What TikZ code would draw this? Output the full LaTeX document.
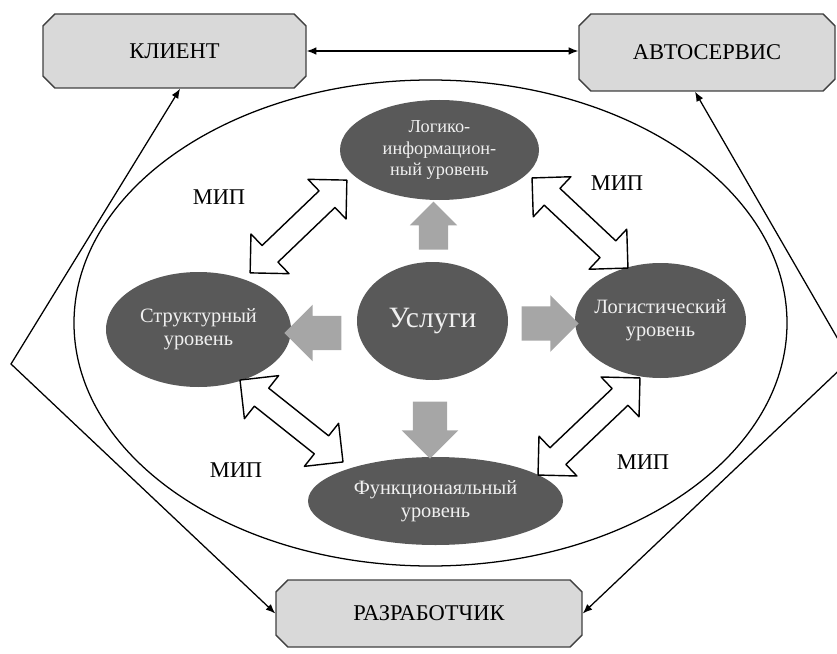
\documentclass[tikz,border=0pt]{standalone}
\usepackage{fontspec}
\setmainfont{Liberation Serif}
\usetikzlibrary{shapes.geometric,shapes.misc,shapes.arrows,arrows.meta}

\begin{document}
\begin{tikzpicture}[line cap=round, line join=round,
  octbox/.style={chamfered rectangle, chamfered rectangle xsep=0.5cm,
    draw=black!75, line width=1pt, fill=black!15, inner sep=0pt,
    font=\fontsize{16}{19}\selectfont},
  lvl/.style={ellipse, fill=black!65, text=black!6, inner sep=-4mm,
    align=center, font=\fontsize{14.5}{16.5}\selectfont},
  push/.style={single arrow, fill=black!35, inner xsep=0pt, inner ysep=0.42cm,
    minimum height=1.425cm, single arrow head extend=0.28cm},
  link/.style={double arrow, draw, fill=white, line width=1pt,
    inner xsep=0pt, inner ysep=0.27cm, double arrow head extend=0.4cm},
  conn/.style={line width=0.9pt, -{Latex[length=2.4mm,width=1.9mm]}},
  mip/.style={font=\fontsize{16}{19}\selectfont}]

%-----------------------
% 画布：837x653 像素，1px = 0.025cm
%-----------------------
\useasboundingbox (0,0) rectangle (20.925,16.325);
\clip (0,0) rectangle (20.925,16.325);

%-----------------------
% 三个参与方
%-----------------------
\node[octbox, minimum width=6.575cm, minimum height=1.85cm]  (klient) at (4.3625,15.05)  {КЛИЕНТ};
\node[octbox, minimum width=6.4cm,   minimum height=1.925cm] (servis) at (17.675,15.0125) {АВТОСЕРВИС};
\node[octbox, minimum width=7.65cm,  minimum height=1.675cm] (razrab) at (10.725,0.9875) {РАЗРАБОТЧИК};

%-----------------------
% 大椭圆及各个层次
%-----------------------
\node[draw, ellipse, line width=0.9pt, inner sep=0pt,
  minimum width=17.825cm, minimum height=12.15cm] (sys) at (10.7625,8.25) {};

\node[lvl, minimum width=4.975cm, minimum height=2.5cm,
  font=\fontsize{13}{15}\selectfont] (info) at (10.9875,12.575) {Логико-\\информацион-\\ный уровень};
\node[lvl, minimum width=4.625cm, minimum height=2.875cm] (struct) at (4.9625,8.0875) {Структурный\\уровень};
\node[lvl, minimum width=3.775cm, minimum height=2.95cm,
  font=\fontsize{21}{25}\selectfont] (usl) at (10.8125,8.3) {Услуги};
\node[lvl, minimum width=4.275cm, minimum height=2.875cm] (logist) at (16.5125,8.3125) {Логистический\\уровень};
\node[lvl, minimum width=6.375cm, minimum height=2.2cm] (func) at (10.8875,3.8) {Функционаяльный\\уровень};

%-----------------------
% 灰色箭头：由“Услуги”指向四个层次
%-----------------------
\node[push, shape border rotate=90, minimum height=1.2cm, inner xsep=0.36cm, inner ysep=0pt,
  single arrow head extend=0.225cm] (pup) at (10.8375,10.5) {};
\node[push, shape border rotate=180] (pleft)  at (8.0375,8.0) {};
\node[push, shape border rotate=0]   (pright) at (13.5375,8.2375) {};
\node[push, shape border rotate=270, inner xsep=0.42cm, inner ysep=0pt] (pdown) at (10.75,5.7875) {};

%-----------------------
% 白色双向箭头（МИП）
%-----------------------
\node[link, rotate=43.8,  minimum height=3.35cm] (mtl) at (7.4625,10.6625) {};
\node[link, rotate=-43.2, minimum height=3.29cm] (mtr) at (14.5,10.75) {};
\node[link, rotate=-38.5, minimum height=3.29cm] (mbl) at (7.2875,5.8) {};
\node[link, rotate=43.6,  minimum height=3.52cm] (mbr) at (14.725,5.6625) {};

\node[mip] (lbtl) at (5.475,11.4)  {МИП};
\node[mip] (lbtr) at (15.425,11.75) {МИП};
\node[mip] (lbbl) at (5.9,4.575)   {МИП};
\node[mip] (lbbr) at (16.075,4.775) {МИП};

%-----------------------
% 外侧连线
%-----------------------
\coordinate (vl) at (0.275,7.225);
\coordinate (vr) at (21.25,7.325);

\draw[line width=0.9pt, {Latex[length=2.4mm,width=1.9mm]}-{Latex[length=2.4mm,width=1.9mm]}]
  (klient.east) -- (klient.east -| servis.west);
\draw[conn] (vl) -- ([xshift=0.14cm]klient.south);
\draw[conn] (vl) -- (razrab.west);
\draw[conn] (vr) -- ([xshift=-0.3cm]servis.south);
\draw[conn] (vr) -- (razrab.east);

\end{tikzpicture}
\end{document}
